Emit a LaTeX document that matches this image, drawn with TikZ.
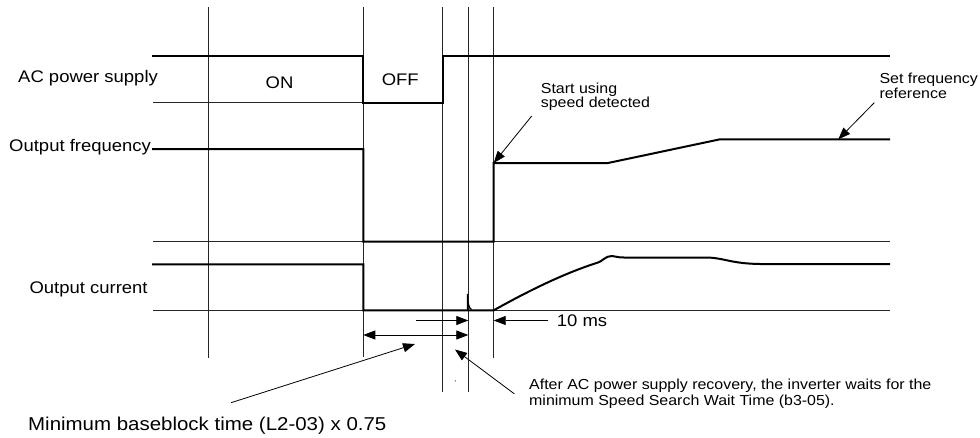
\documentclass[tikz,border=0pt]{standalone}
\usepackage{fontspec}
\setmainfont{Liberation Sans}[FakeStretch=1.1]
\usetikzlibrary{arrows.meta}
\newcommand\mainfnt{\fontsize{16.8}{18}\selectfont}
\newcommand\smallfnt{\fontsize{14.5}{15.7}\selectfont}
\newcommand\bigfnt{\fontsize{18.6}{20}\selectfont}
\begin{document}
\begin{tikzpicture}[x=1pt,y=-1pt,
  grid/.style={line width=0.8pt,black!85},
  wave/.style={line width=2pt,line join=miter},
  lbl/.style={inner sep=0pt,anchor=base west,font=\mainfnt},
  sml/.style={inner sep=0pt,anchor=base west,font=\smallfnt},
  ptr/.style={line width=0.8pt,-{Triangle[length=12pt,width=9pt]}},
  dptr/.style={line width=0.8pt,{Triangle[length=12pt,width=9pt]}-{Triangle[length=12pt,width=9pt]}}]
\useasboundingbox[fill=white] (0,0) rectangle (980,437);

% vertical time markers
\draw[grid] (208,7) -- (208,358);
\draw[grid] (363.3,7) -- (363.3,357);
\draw[grid] (442.7,7) -- (442.7,392);
\draw[grid] (468.3,7) -- (468.3,392);
\draw[grid] (493.7,7) -- (493.7,358);

% horizontal reference lines
\draw[grid] (153,102.7) -- (363.3,102.7);
\draw[grid] (153,241.7) -- (890,241.7);
\draw[grid] (153,310.3) -- (890,310.3);

% AC power supply
\draw[wave] (152,56) -- (363.3,56) -- (363.3,102.7) -- (442.7,102.7) -- (442.7,56) -- (890,56);
% Output frequency
\draw[wave] (152,149) -- (363.3,149) -- (363.3,241.7) -- (493.7,241.7) -- (493.7,163)
  coordinate (fstart) -- (608,163) -- (720,139.3) -- (890,139.3);
\coordinate (fref) at (838.3,139.3);
% Output current
\draw[wave] (152,264.3) -- (363.3,264.3) -- (363.3,310.3) -- (493.7,310.3) coordinate (cstart)
  .. controls (530,290) and (565,273) .. (598,262.5)
  .. controls (603,261) and (605,256) .. (612,256)
  .. controls (616,256) and (618,258) .. (625,257.5)
  -- (707,257.5) .. controls (725,258) and (730,263.5) .. (760,264) -- (890,264);
\draw[line width=1.3pt] (467.5,310) -- (467.5,294) .. controls (467.8,303) and (468.8,308.5) .. (471.5,309.5);

% labels
\node[lbl] (acl) at (18,82.7) {AC power supply};
\node[lbl,anchor=base] (on) at (279.5,88.3) {ON};
\node[lbl,anchor=base] (off) at (400.3,85) {OFF};
\node[lbl] (ofl) at (9,151.5) {Output frequency};
\node[lbl] (ocl) at (29.3,293) {Output current};
\node[sml] (su1) at (540.7,93.3) {Start using};
\node[sml] (su2) at (540.7,107.3) {speed detected};
\node[sml] (sf1) at (879.3,83.3) {Set frequency};
\node[sml] (sf2) at (879.3,98.3) {reference};
\node[lbl] (tms) at (556.7,326.5) {10 ms};
\node[sml] (aa1) at (529,389.3) {After AC power supply recovery, the inverter waits for the};
\node[sml] (aa2) at (529,405) {minimum Speed Search Wait Time (b3-05).};
\node[lbl,font=\bigfnt] (mbb) at (28,430.5) {Minimum baseblock time (L2-03) x 0.75};

% pointer coordinates
\coordinate (suT) at (531.7,116);
\coordinate (sfT) at (874.3,102.7);
\coordinate (tmT) at (548.3,320.5);
\coordinate (tmH) at (493.7,320.5);
\coordinate (wA) at (416,320.5);
\coordinate (wB) at (468.3,320.5);
\coordinate (dA) at (363.3,335);
\coordinate (dB) at (468.3,335);
\coordinate (mbT) at (231,402.7);
\coordinate (mbH) at (415,344);
\coordinate (aaT) at (514.3,393.8);
\coordinate (aaH) at (455,349.5);

\draw[ptr] (suT) -- (fstart);
\draw[ptr] (sfT) -- (fref);
\draw[ptr] (tmT) -- (tmH);
\draw[ptr] (wA) -- (wB);
\draw[dptr] (dA) -- (dB);
\draw[ptr] (mbT) -- (mbH);
\draw[ptr] (aaT) -- (aaH);
\fill[black!60] (455.5,380.8) circle (0.7);
\end{tikzpicture}
\end{document}
